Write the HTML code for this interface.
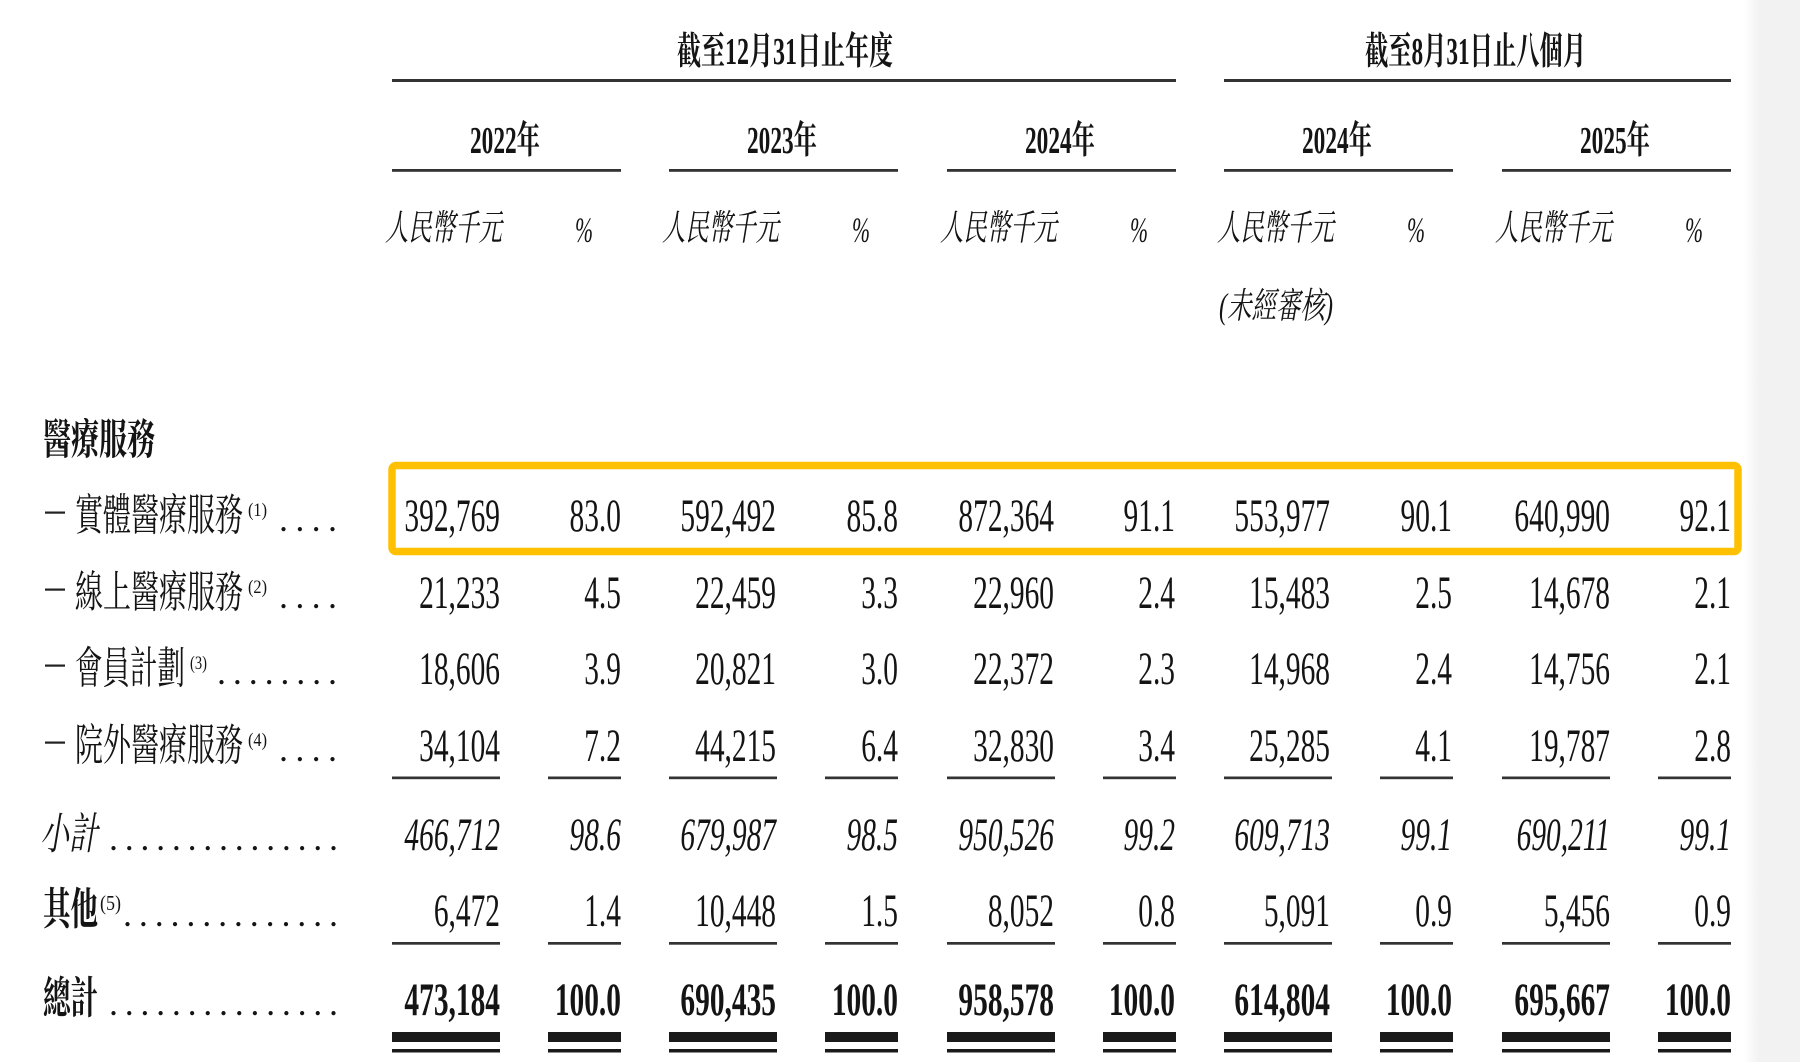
<!DOCTYPE html>
<html>
<head>
<meta charset="utf-8">
<style>
html,body{margin:0;padding:0;background:#fff;}
svg{display:block;}
text{fill:#141414;}
</style>
</head>
<body>
<svg width="1800" height="1062" viewBox="0 0 1800 1062" xmlns="http://www.w3.org/2000/svg" font-family="'Liberation Serif','Noto Serif CJK SC',serif">
<defs>
<linearGradient id="gs" x1="0" x2="1" y1="0" y2="0"><stop offset="0" stop-color="#ffffff"/><stop offset="1" stop-color="#f2f2f2"/></linearGradient>
</defs>
<rect x="0" y="0" width="1800" height="1062" fill="#fff"/>
<rect x="1744" y="0" width="16" height="1062" fill="url(#gs)"/>
<rect x="1760" y="0" width="40" height="1062" fill="#f2f2f2"/>

<!-- Top headers -->
<text x="677" y="64" font-size="38" font-weight="bold" textLength="216" lengthAdjust="spacingAndGlyphs">截至12月31日止年度</text>
<text x="1365" y="64" font-size="38" font-weight="bold" textLength="221" lengthAdjust="spacingAndGlyphs">截至8月31日止八個月</text>
<rect x="392" y="79" width="784" height="3" fill="#333"/>
<rect x="1224" y="79" width="507" height="3" fill="#333"/>

<!-- Year headers -->
<g font-size="38" font-weight="bold">
<text x="470" y="153" textLength="70" lengthAdjust="spacingAndGlyphs">2022年</text>
<text x="747" y="153" textLength="70" lengthAdjust="spacingAndGlyphs">2023年</text>
<text x="1025" y="153" textLength="70" lengthAdjust="spacingAndGlyphs">2024年</text>
<text x="1302" y="153" textLength="70" lengthAdjust="spacingAndGlyphs">2024年</text>
<text x="1580" y="153" textLength="70" lengthAdjust="spacingAndGlyphs">2025年</text>
</g>
<g fill="#333">
<rect x="392" y="169" width="229" height="2.8"/>
<rect x="669" y="169" width="229" height="2.8"/>
<rect x="947" y="169" width="229" height="2.8"/>
<rect x="1224" y="169" width="229" height="2.8"/>
<rect x="1502" y="169" width="229" height="2.8"/>
</g>

<!-- Sub headers -->
<g font-size="36" font-style="italic">
<text x="385" y="240" textLength="117" lengthAdjust="spacingAndGlyphs">人民幣千元</text>
<text x="662" y="240" textLength="117" lengthAdjust="spacingAndGlyphs">人民幣千元</text>
<text x="940" y="240" textLength="117" lengthAdjust="spacingAndGlyphs">人民幣千元</text>
<text x="1217" y="240" textLength="117" lengthAdjust="spacingAndGlyphs">人民幣千元</text>
<text x="1495" y="240" textLength="117" lengthAdjust="spacingAndGlyphs">人民幣千元</text>
<text x="575" y="242" textLength="18" lengthAdjust="spacingAndGlyphs">%</text>
<text x="852" y="242" textLength="18" lengthAdjust="spacingAndGlyphs">%</text>
<text x="1130" y="242" textLength="18" lengthAdjust="spacingAndGlyphs">%</text>
<text x="1407" y="242" textLength="18" lengthAdjust="spacingAndGlyphs">%</text>
<text x="1685" y="242" textLength="18" lengthAdjust="spacingAndGlyphs">%</text>
<text x="1219" y="318" textLength="114" lengthAdjust="spacingAndGlyphs">(未經審核)</text>
</g>

<!-- Section title -->
<text x="43" y="454" font-size="42" font-weight="bold" textLength="112" lengthAdjust="spacingAndGlyphs">醫療服務</text>

<!-- Row labels -->
<g fill="#222">
<rect x="45" y="511.5" width="20" height="2.2"/>
<rect x="45" y="588.5" width="20" height="2.2"/>
<rect x="45" y="664.5" width="20" height="2.2"/>
<rect x="45" y="741.5" width="20" height="2.2"/>
</g>
<g font-size="44">
<text x="75" y="530" textLength="168" lengthAdjust="spacingAndGlyphs">實體醫療服務</text>
<text x="75" y="607" textLength="168" lengthAdjust="spacingAndGlyphs">線上醫療服務</text>
<text x="75" y="683" textLength="110" lengthAdjust="spacingAndGlyphs">會員計劃</text>
<text x="75" y="760" textLength="168" lengthAdjust="spacingAndGlyphs">院外醫療服務</text>
</g>
<g font-size="19">
<text x="248" y="516" textLength="19" lengthAdjust="spacingAndGlyphs">(1)</text>
<text x="248" y="593" textLength="19" lengthAdjust="spacingAndGlyphs">(2)</text>
<text x="190" y="669" textLength="17" lengthAdjust="spacingAndGlyphs">(3)</text>
<text x="248" y="746" textLength="19" lengthAdjust="spacingAndGlyphs">(4)</text>
</g>
<g font-size="36">
<text x="279" y="531" textLength="58" lengthAdjust="spacing">....</text>
<text x="279" y="608" textLength="58" lengthAdjust="spacing">....</text>
<text x="217" y="684" textLength="120" lengthAdjust="spacing">........</text>
<text x="279" y="761" textLength="58" lengthAdjust="spacing">....</text>
<text x="109" y="850" textLength="229" lengthAdjust="spacing">...............</text>
<text x="123" y="926" textLength="215" lengthAdjust="spacing">..............</text>
<text x="109" y="1015" textLength="229" lengthAdjust="spacing">...............</text>
</g>
<text x="40" y="849" font-size="44" font-style="italic" textLength="58" lengthAdjust="spacingAndGlyphs">小計</text>
<text x="43" y="924" font-size="44" font-weight="bold" textLength="55" lengthAdjust="spacingAndGlyphs">其他</text>
<text x="100" y="910" font-size="21" textLength="21" lengthAdjust="spacingAndGlyphs">(5)</text>
<text x="43" y="1013" font-size="44" font-weight="bold" textLength="55" lengthAdjust="spacingAndGlyphs">總計</text>

<!-- Numbers -->
<g transform="scale(0.626 1)" text-anchor="end" font-size="47" font-family="'Liberation Serif',serif">
<!-- Row 1 -->
<text x="798.7" y="531">392,769</text>
<text x="992.0" y="531">83.0</text>
<text x="1239.6" y="531">592,492</text>
<text x="1434.5" y="531">85.8</text>
<text x="1683.7" y="531">872,364</text>
<text x="1877.0" y="531">91.1</text>
<text x="2124.6" y="531">553,977</text>
<text x="2319.5" y="531">90.1</text>
<text x="2571.9" y="531">640,990</text>
<text x="2765.2" y="531">92.1</text>
<!-- Row 2 -->
<text x="798.7" y="608">21,233</text>
<text x="992.0" y="608">4.5</text>
<text x="1239.6" y="608">22,459</text>
<text x="1434.5" y="608">3.3</text>
<text x="1683.7" y="608">22,960</text>
<text x="1877.0" y="608">2.4</text>
<text x="2124.6" y="608">15,483</text>
<text x="2319.5" y="608">2.5</text>
<text x="2571.9" y="608">14,678</text>
<text x="2765.2" y="608">2.1</text>
<!-- Row 3 -->
<text x="798.7" y="684">18,606</text>
<text x="992.0" y="684">3.9</text>
<text x="1239.6" y="684">20,821</text>
<text x="1434.5" y="684">3.0</text>
<text x="1683.7" y="684">22,372</text>
<text x="1877.0" y="684">2.3</text>
<text x="2124.6" y="684">14,968</text>
<text x="2319.5" y="684">2.4</text>
<text x="2571.9" y="684">14,756</text>
<text x="2765.2" y="684">2.1</text>
<!-- Row 4 -->
<text x="798.7" y="761">34,104</text>
<text x="992.0" y="761">7.2</text>
<text x="1239.6" y="761">44,215</text>
<text x="1434.5" y="761">6.4</text>
<text x="1683.7" y="761">32,830</text>
<text x="1877.0" y="761">3.4</text>
<text x="2124.6" y="761">25,285</text>
<text x="2319.5" y="761">4.1</text>
<text x="2571.9" y="761">19,787</text>
<text x="2765.2" y="761">2.8</text>
<!-- Subtotal -->
<g font-style="italic">
<text x="798.7" y="850">466,712</text>
<text x="992.0" y="850">98.6</text>
<text x="1239.6" y="850">679,987</text>
<text x="1434.5" y="850">98.5</text>
<text x="1683.7" y="850">950,526</text>
<text x="1877.0" y="850">99.2</text>
<text x="2124.6" y="850">609,713</text>
<text x="2319.5" y="850">99.1</text>
<text x="2571.9" y="850">690,211</text>
<text x="2765.2" y="850">99.1</text>
</g>
<!-- Others -->
<text x="798.7" y="926">6,472</text>
<text x="992.0" y="926">1.4</text>
<text x="1239.6" y="926">10,448</text>
<text x="1434.5" y="926">1.5</text>
<text x="1683.7" y="926">8,052</text>
<text x="1877.0" y="926">0.8</text>
<text x="2124.6" y="926">5,091</text>
<text x="2319.5" y="926">0.9</text>
<text x="2571.9" y="926">5,456</text>
<text x="2765.2" y="926">0.9</text>
<!-- Total -->
<g font-weight="bold">
<text x="798.7" y="1015">473,184</text>
<text x="992.0" y="1015">100.0</text>
<text x="1239.6" y="1015">690,435</text>
<text x="1434.5" y="1015">100.0</text>
<text x="1683.7" y="1015">958,578</text>
<text x="1877.0" y="1015">100.0</text>
<text x="2124.6" y="1015">614,804</text>
<text x="2319.5" y="1015">100.0</text>
<text x="2571.9" y="1015">695,667</text>
<text x="2765.2" y="1015">100.0</text>
</g>
</g>

<!-- Column rules under row 4 -->
<g fill="#333">
<rect x="392" y="776.5" width="108" height="2.7"/>
<rect x="548" y="776.5" width="73" height="2.7"/>
<rect x="669" y="776.5" width="108" height="2.7"/>
<rect x="825" y="776.5" width="73" height="2.7"/>
<rect x="947" y="776.5" width="108" height="2.7"/>
<rect x="1103" y="776.5" width="73" height="2.7"/>
<rect x="1224" y="776.5" width="108" height="2.7"/>
<rect x="1380" y="776.5" width="73" height="2.7"/>
<rect x="1502" y="776.5" width="108" height="2.7"/>
<rect x="1658" y="776.5" width="73" height="2.7"/>
<!-- under others -->
<rect x="392" y="942" width="108" height="2.7"/>
<rect x="548" y="942" width="73" height="2.7"/>
<rect x="669" y="942" width="108" height="2.7"/>
<rect x="825" y="942" width="73" height="2.7"/>
<rect x="947" y="942" width="108" height="2.7"/>
<rect x="1103" y="942" width="73" height="2.7"/>
<rect x="1224" y="942" width="108" height="2.7"/>
<rect x="1380" y="942" width="73" height="2.7"/>
<rect x="1502" y="942" width="108" height="2.7"/>
<rect x="1658" y="942" width="73" height="2.7"/>
</g>
<!-- Double rules under total -->
<g fill="#1a1a1a">
<rect x="392" y="1032" width="108" height="10"/>
<rect x="548" y="1032" width="73" height="10"/>
<rect x="669" y="1032" width="108" height="10"/>
<rect x="825" y="1032" width="73" height="10"/>
<rect x="947" y="1032" width="108" height="10"/>
<rect x="1103" y="1032" width="73" height="10"/>
<rect x="1224" y="1032" width="108" height="10"/>
<rect x="1380" y="1032" width="73" height="10"/>
<rect x="1502" y="1032" width="108" height="10"/>
<rect x="1658" y="1032" width="73" height="10"/>
<rect x="392" y="1049" width="108" height="3.5"/>
<rect x="548" y="1049" width="73" height="3.5"/>
<rect x="669" y="1049" width="108" height="3.5"/>
<rect x="825" y="1049" width="73" height="3.5"/>
<rect x="947" y="1049" width="108" height="3.5"/>
<rect x="1103" y="1049" width="73" height="3.5"/>
<rect x="1224" y="1049" width="108" height="3.5"/>
<rect x="1380" y="1049" width="73" height="3.5"/>
<rect x="1502" y="1049" width="108" height="3.5"/>
<rect x="1658" y="1049" width="73" height="3.5"/>
</g>

<!-- Yellow highlight box -->
<rect x="392" y="465.5" width="1346" height="86" rx="4" ry="4" fill="none" stroke="#ffc000" stroke-width="7.5"/>
</svg>
</body>
</html>
